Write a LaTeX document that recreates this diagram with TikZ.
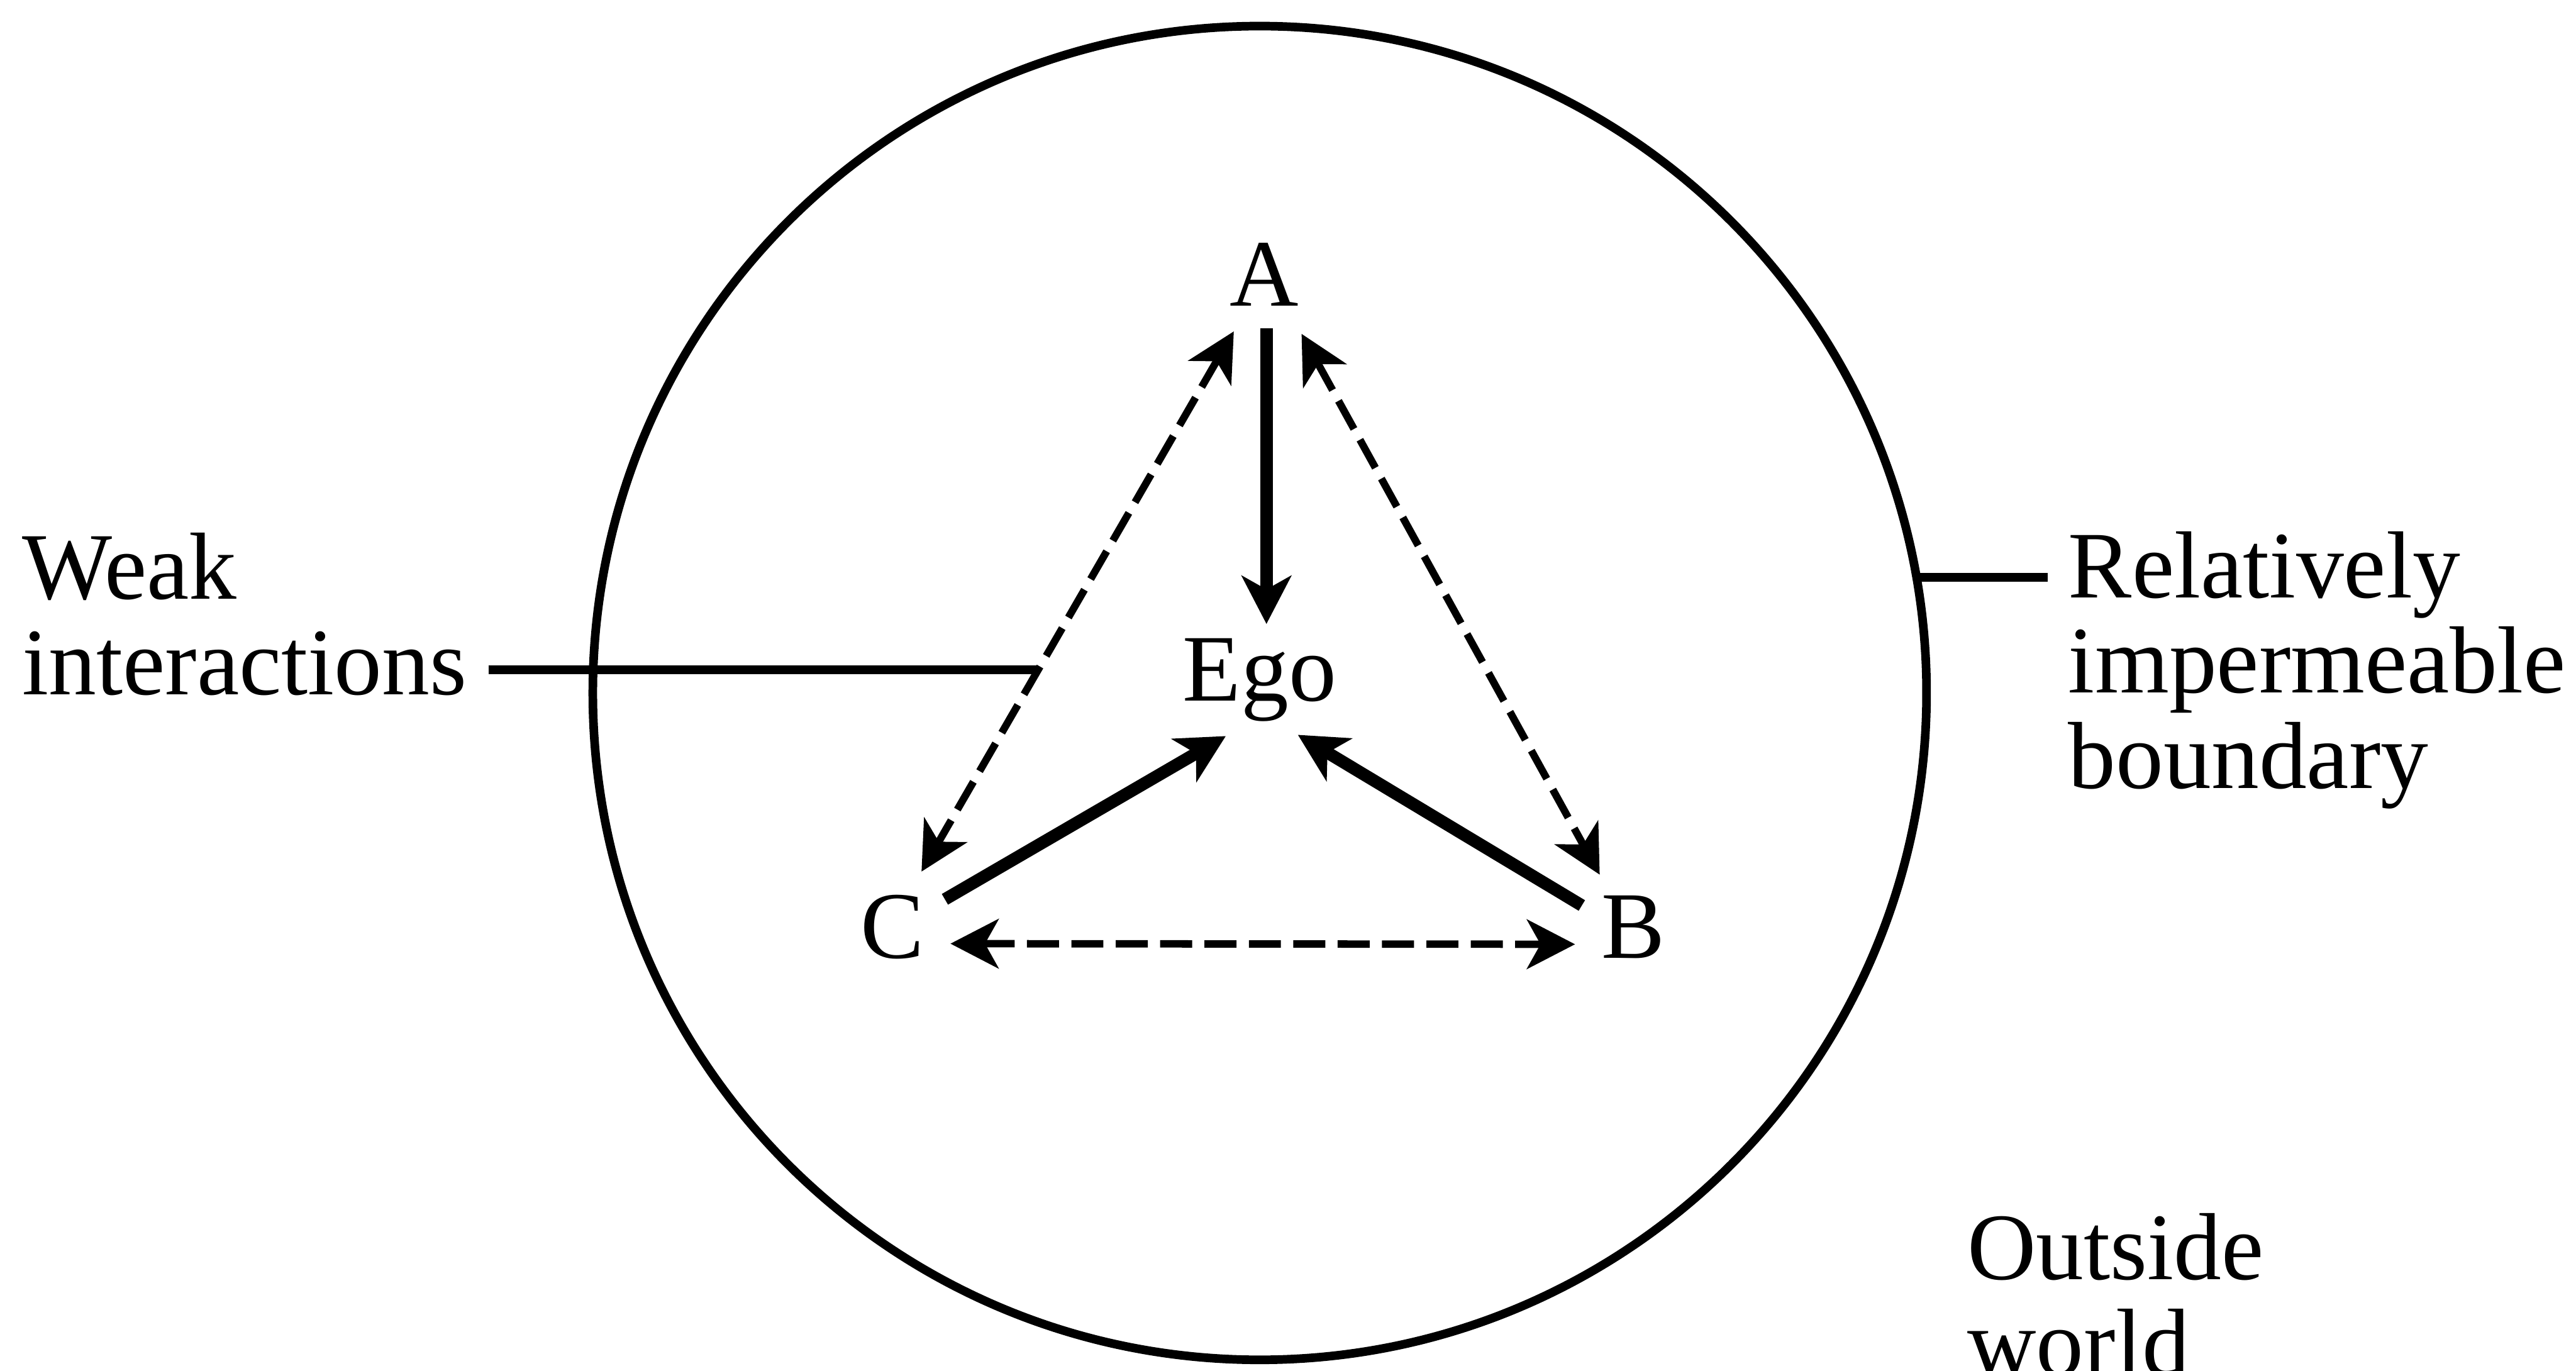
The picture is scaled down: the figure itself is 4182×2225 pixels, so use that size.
\documentclass[tikz,border=0pt]{standalone}
\usepackage{fontspec}
\setmainfont{Liberation Serif}
\usetikzlibrary{arrows.meta,calc}
\begin{document}
\begin{tikzpicture}[x=0.01cm,y=-0.01cm,
  >={Stealth[length=0.78cm,width=0.8cm,inset=0.22cm]},
  lbl/.style={inner sep=0, outer sep=0, anchor=base west, font=\fontsize{44}{44}\selectfont},
  letter/.style={inner sep=0, outer sep=0, anchor=base, font=\fontsize{44}{44}\selectfont},
  solidarr/.style={->, line width=0.2cm},
  dasharr/.style={<->, line width=0.12cm, dash pattern=on 0.52cm off 0.2cm},
  leader/.style={line width=0.14cm},
  boundary/.style={draw, circle, minimum size=21.64cm, line width=0.14cm, inner sep=0, outer sep=0}]
\useasboundingbox (0,0) rectangle (4182,2225);

% boundary circle
\node[boundary] (bound) at (2045,1125) {};

% labels
\node[lbl] (weak1) at (36,972) {Weak};
\node[lbl] (weak2) at (36,1128) {interactions};
\node[lbl] (rel1) at (3358,970) {Relatively};
\node[lbl] (rel2) at (3358,1125) {impermeable};
\node[lbl] (rel3) at (3358,1280) {boundary};
\node[lbl] (out1) at (3194,2077) {Outside};
\node[lbl] (out2) at (3194,2232) {world};

% persons
\node[letter] (A) at (2052,497) {A};
\node[letter] (Ego) at (2045,1138) {Ego};
\node[letter] (C) at (1449,1555) {C};
\node[letter] (B) at (2652,1555) {B};

% connector end points
\coordinate (ae1) at ($(A.base)+(4,36)$);
\coordinate (ae2) at ($(Ego.base)+(11,-125)$);
\coordinate (ac1) at ($(A.base)+(-49,41)$);
\coordinate (ac2) at ($(C.base)+(47,-140)$);
\coordinate (ab1) at ($(A.base)+(61,45)$);
\coordinate (ab2) at ($(B.base)+(-55,-135)$);
\coordinate (ce1) at ($(C.base)+(85,-95)$);
\coordinate (ce2) at ($(Ego.base)+(-55,57)$);
\coordinate (be1) at ($(B.base)+(-84,-85)$);
\coordinate (be2) at ($(Ego.base)+(62,55)$);
\coordinate (cb1) at ($(C.base)+(94,-23)$);
\coordinate (cb2) at ($(B.base)+(-95,-22)$);

% strong ties
\draw[solidarr] (ae1) -- (ae2);
\draw[solidarr] (ce1) -- (ce2);
\draw[solidarr] (be1) -- (be2);

% weak ties
\draw[dasharr] (ac1) -- (ac2);
\draw[dasharr] (ab1) -- (ab2);
\draw[dasharr] (cb1) -- (cb2);

% leader lines
\coordinate (lw) at ($(ac1)!0.626!(ac2)$);
\draw[leader] ($(weak2.east |- lw)+(35,0)$) -- (lw);
\draw[leader] (bound.10.8) -- ($(rel1.west |- bound.10.8)+(-34,0)$);
\end{tikzpicture}
\end{document}
